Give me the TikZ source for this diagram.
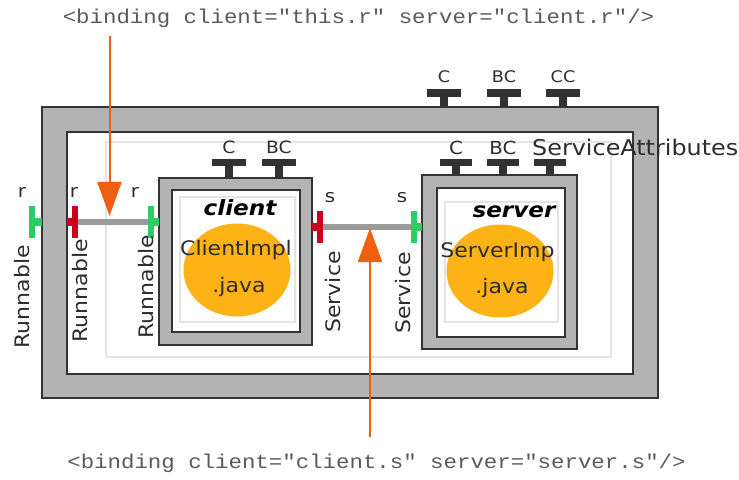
\documentclass[tikz,border=0pt]{standalone}
\usepackage{fontspec}
\newfontfamily\hand[FakeStretch=1.1]{DejaVu Sans}
\newfontfamily\codefont[FakeStretch=1.12]{Liberation Mono}
\usetikzlibrary{shapes.geometric,arrows.meta}
\definecolor{framegray}{RGB}{179,179,179}
\definecolor{darkline}{RGB}{51,51,51}
\definecolor{faintline}{RGB}{228,228,228}
\definecolor{portdark}{RGB}{50,50,50}
\definecolor{portgreen}{RGB}{46,204,100}
\definecolor{portred}{RGB}{204,0,30}
\definecolor{bindgray}{RGB}{155,155,155}
\definecolor{arroworange}{RGB}{238,96,16}
\definecolor{implgold}{RGB}{253,178,22}
\definecolor{textdark}{RGB}{45,45,45}
\definecolor{codegray}{RGB}{90,90,90}
\newcommand\hsz[1]{\fontsize{#1bp}{#1bp}\selectfont}
\begin{document}
\begin{tikzpicture}[x=1bp,y=-1bp,
  box/.style={rectangle, draw=darkline, line width=1.2bp, inner sep=0pt, outer sep=0pt},
  framebox/.style={box, fill=framegray},
  innerbox/.style={box, fill=white},
  faintbox/.style={rectangle, draw=faintline, line width=1.5bp, inner sep=0pt, outer sep=0pt},
  impl/.style={ellipse, fill=implgold, inner sep=0pt, minimum width=107bp, minimum height=93bp},
  lab/.style={inner sep=0pt, text=textdark, font=\hand\hsz{20}},
  smalllab/.style={inner sep=0pt, text=textdark, font=\hand\hsz{16}},
  portlab/.style={inner sep=0pt, text=textdark, font=\hand\hsz{18}},
  compname/.style={inner sep=0pt, text=black, font=\hand\bfseries\itshape\hsz{21}},
  code/.style={inner sep=0pt, text=codegray, font=\codefont\hsz{20}},
  portbar/.style={rectangle, inner sep=0pt, outer sep=0pt, minimum width=6bp, minimum height=32bp},
  bindline/.style={draw=bindgray, line width=6bp},
  orangearrow/.style={draw=arroworange, line width=2bp, -{Triangle[width=24bp,length=34bp]}, arroworange}
]
\useasboundingbox (0,0) rectangle (739,480);

% composite frame
\node[framebox, minimum width=616bp, minimum height=291bp] (outer) at (350,252.5) {};
\node[innerbox, minimum width=566bp, minimum height=242bp] (outerin) at (350,253) {};
\node[faintbox, minimum width=505bp, minimum height=215bp] (outerfaint) at (358.5,249.5) {};

% client component
\node[framebox, minimum width=153bp, minimum height=167bp] (client) at (235.5,261.5) {};
\node[innerbox, minimum width=128bp, minimum height=142bp] (clientin) at (236,261) {};
\node[faintbox, minimum width=115bp, minimum height=125bp] (clientfaint) at (237.5,259.5) {};
\node[impl] (clientimpl) at (237,270) {};
\node[compname] (clientname) at (240,208) {client};
\node[lab] (clientimpltext) at (236,250) {ClientImpl};
\node[lab] (clientjava) at (239,287) {.java};

% server component
\node[framebox, minimum width=155bp, minimum height=174bp] (server) at (499.5,262) {};
\node[innerbox, minimum width=128bp, minimum height=149bp] (serverin) at (501,262.5) {};
\node[faintbox, minimum width=113bp, minimum height=120bp] (serverfaint) at (501.5,262) {};
\node[impl] (serverimpl) at (500,271) {};
\node[compname] (servername) at (514,212) {server};
\node[lab] (serverimpltext) at (497.5,252) {ServerImp};
\node[lab] (serverjava) at (502,288) {.java};

% top (control) ports
\foreach \x/\t in {444/C,504/BC,563/CC}{
  \fill[portdark] (\x-17,89) rectangle (\x+17,97);
  \fill[portdark] (\x-4,96) rectangle (\x+4,107);
  \node[smalllab] at (\x,77) {\t};
}
\foreach \x/\t in {229/C,279/BC}{
  \fill[portdark] (\x-17,159) rectangle (\x+17,166);
  \fill[portdark] (\x-4,165) rectangle (\x+4,178);
  \node[smalllab, font=\hand\hsz{17}] at (\x,147) {\t};
}
\foreach \x/\t in {456/C,503/BC}{
  \fill[portdark] (\x-16,159) rectangle (\x+16,166);
  \fill[portdark] (\x-4,165) rectangle (\x+4,175);
  \node[smalllab, font=\hand\hsz{18}] at (\x,148) {\t};
}
\fill[portdark] (534,159) rectangle (566,166);
\fill[portdark] (546,165) rectangle (554,175);
\node[lab, font=\hand\hsz{21.7}, anchor=west] (servattr) at (532,147) {ServiceAttributes};

% side ports
\node[portbar, fill=portgreen] (gp1) at (32,222) {};
\fill[portgreen] (34,218) rectangle (42,226);
\node[portbar, fill=portred] (rp1) at (75,222) {};
\fill[portred] (67,218) rectangle (73,226);
\node[portbar, fill=portgreen] (gp2) at (150.5,222) {};
\fill[portgreen] (153,218) rectangle (159,226);
\node[portbar, fill=portred] (rp2) at (320,227) {};
\fill[portred] (312,223) rectangle (318,231);
\node[portbar, fill=portgreen] (gp3) at (414,227) {};
\fill[portgreen] (416,223) rectangle (422,231);

% bindings
\draw[bindline] (rp1.east) -- (gp2.west);
\draw[bindline] (rp2.east) -- (gp3.west);

% port labels
\node[portlab] at (22,192) {r};
\node[portlab] at (74,192) {r};
\node[portlab] at (135,192) {r};
\node[portlab] at (330,198) {s};
\node[portlab] at (402,198) {s};
\node[lab, rotate=90] at (22,297) {Runnable};
\node[lab, rotate=90] at (80,291) {Runnable};
\node[lab, rotate=90] at (146,287) {Runnable};
\node[lab, rotate=90] at (333,292) {Service};
\node[lab, rotate=90] at (403,293) {Service};

% binding declarations
\node[code, anchor=base] (code1) at (358.5,24) {<binding client="this.r" server="client.r"/>};
\node[code, anchor=base] (code2) at (376.5,468) {<binding client="client.s" server="server.s"/>};
\coordinate (a1start) at (109.5,36);
\coordinate (a1tip) at (109.5,216);
\coordinate (a2start) at (370,437);
\coordinate (a2tip) at (370,228);
\draw[orangearrow] (a1start) -- (a1tip);
\draw[orangearrow] (a2start) -- (a2tip);
\end{tikzpicture}
\end{document}
